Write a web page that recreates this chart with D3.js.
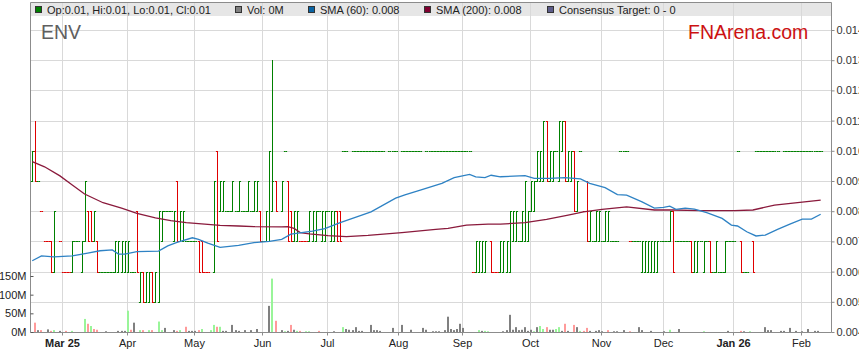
<!DOCTYPE html>
<html><head><meta charset="utf-8">
<script src="https://cdn.jsdelivr.net/npm/d3@7/dist/d3.min.js"></script>
<style>
body{margin:0;background:#fff}
svg{display:block;font-family:"Liberation Sans",Arial,sans-serif}
</style>
</head><body>
<svg id="chart" width="859" height="363"></svg>
<script>
// ---------- data ----------
const firstDay = "2025-02-17", dayAfterLast = "2026-02-11";
const monthLabels = ["Mar 25","Apr","May","Jun","Jul","Aug","Sep","Oct","Nov","Dec","Jan 26","Feb"];
const yearLabels = ["Mar 25","Jan 26"];
const priceTicks = [0.004,0.005,0.006,0.007,0.008,0.009,0.010,0.011,0.012,0.013,0.014];
const volumeTicks = [0,50,100,150]; // millions
const open = [
.009,.010,.009,.008,.007,.007,.007,.006,null,.007,
.006,.006,.006,.006,.007,.007,.006,.007,.008,.008,
.007,.007,.006,.006,.006,.006,.006,.006,.006,.006,
.006,.006,.006,.006,.008,.005,.006,.005,.005,.006,
.005,.005,.007,.008,.008,.008,.007,.009,.007,.007,
.007,.007,.007,.007,.007,.007,.006,.006,null,.006,
.010,.008,.008,.008,.008,.008,.008,.008,.008,.008,
.008,.008,.008,.008,.008,.007,.007,.007,.008,.009,
null,.008,.010,.009,.008,.007,.007,.007,.007,.007,
.007,.007,.007,.008,.007,.007,.008,.007,.007,.008,
.008,.010,.010,null,.010,.010,.010,.010,.010,.010,
.010,.010,.010,.010,.010,null,.010,.010,.010,null,
.010,.010,.010,.010,.010,.010,.010,null,.010,.010,
.010,.010,.010,.010,.010,.010,.010,.010,.010,.010,
.010,.010,.010,.006,.006,.006,.006,.006,null,.007,
.006,.006,.006,.006,.006,.006,.007,.007,.007,.007,
.007,.007,.008,.008,.009,.009,.009,.011,.009,.009,
.010,.009,.010,.011,.009,.009,.010,.008,.010,.008,
.009,.007,.007,.007,.007,.007,.007,.007,.007,.007,
.007,.010,.010,.010,.007,.007,.007,.007,.006,.006,
.006,.006,.006,.006,.007,.007,.007,.007,.008,.007,
.007,.007,.007,.007,.007,.006,.006,.007,.006,.007,
.007,.006,.006,.006,.006,.006,.007,.007,.007,.010,
.007,.006,.006,null,.007,.010,.010,.010,.010,.010,
.010,.010,.010,null,.010,.010,.010,.010,.010,.010,
.010,.010,.010,.010,.010,.010,.010];
const high = [
.010,.011,.009,.008,.007,.007,.007,.008,null,.007,
.006,.006,.006,.007,.007,.007,.007,.009,.008,.008,
.008,.007,.006,.006,.006,.006,.006,.007,.007,.007,
.007,.007,.006,.006,.008,.006,.006,.006,.006,.006,
.006,.008,.008,.008,.008,.008,.008,.009,.008,.008,
.007,.007,.007,.007,.007,.007,.006,.006,null,.009,
.010,.009,.009,.008,.008,.009,.008,.009,.008,.008,
.009,.008,.009,.009,.008,.007,.008,.010,.013,.009,
null,.009,.010,.009,.008,.008,.008,.007,.007,.007,
.008,.008,.008,.008,.008,.008,.008,.008,.008,.008,
.008,.010,.010,null,.010,.010,.010,.010,.010,.010,
.010,.010,.010,.010,.010,null,.010,.010,.010,null,
.010,.010,.010,.010,.010,.010,.010,null,.010,.010,
.010,.010,.010,.010,.010,.010,.010,.010,.010,.010,
.010,.010,.010,.006,.007,.007,.007,.007,null,.007,
.006,.006,.007,.007,.007,.008,.008,.008,.007,.008,
.009,.008,.009,.009,.010,.010,.011,.011,.010,.010,
.010,.011,.011,.011,.010,.010,.010,.009,.010,.008,
.009,.008,.007,.008,.008,.007,.008,.008,.007,.007,
.007,.010,.010,.010,.007,.007,.007,.007,.007,.007,
.007,.007,.007,.007,.007,.007,.007,.008,.008,.007,
.007,.007,.007,.007,.007,.007,.007,.007,.007,.007,
.007,.006,.007,.006,.006,.007,.007,.007,.007,.010,
.007,.006,.006,null,.007,.010,.010,.010,.010,.010,
.010,.010,.010,null,.010,.010,.010,.010,.010,.010,
.010,.010,.010,.010,.010,.010,.010];
const low = [
.009,.009,.009,.008,.007,.007,.006,.006,null,.007,
.006,.006,.006,.006,.007,.007,.006,.007,.007,.007,
.007,.006,.006,.006,.006,.006,.006,.006,.006,.006,
.006,.006,.006,.006,.006,.005,.005,.005,.005,.005,
.005,.005,.007,.008,.008,.008,.007,.007,.007,.007,
.007,.007,.007,.007,.006,.006,.006,.006,null,.006,
.007,.008,.008,.008,.008,.008,.008,.008,.008,.008,
.008,.008,.008,.008,.007,.007,.007,.007,.008,.008,
null,.008,.010,.007,.007,.007,.007,.007,.007,.007,
.007,.007,.007,.008,.007,.007,.008,.007,.007,.007,
.007,.010,.010,null,.010,.010,.010,.010,.010,.010,
.010,.010,.010,.010,.010,null,.010,.010,.010,null,
.010,.010,.010,.010,.010,.010,.010,null,.010,.010,
.010,.010,.010,.010,.010,.010,.010,.010,.010,.010,
.010,.010,.010,.006,.006,.006,.006,.006,null,.006,
.006,.006,.006,.006,.006,.006,.007,.007,.007,.007,
.007,.007,.008,.008,.009,.009,.009,.009,.009,.009,
.010,.009,.010,.009,.009,.009,.008,.008,.010,.008,
.007,.007,.007,.007,.007,.007,.007,.007,.007,.007,
.007,.010,.010,.010,.007,.007,.007,.007,.006,.006,
.006,.006,.006,.006,.007,.007,.007,.007,.006,.007,
.007,.007,.007,.007,.006,.006,.006,.007,.006,.007,
.006,.006,.006,.006,.006,.006,.007,.007,.007,.010,
.006,.006,.006,null,.006,.010,.010,.010,.010,.010,
.010,.010,.010,null,.010,.010,.010,.010,.010,.010,
.010,.010,.010,.010,.010,.010,.010];
const close = [
.010,.009,.009,.008,.007,.007,.006,.008,null,.007,
.006,.006,.006,.007,.007,.007,.007,.009,.007,.007,
.008,.006,.006,.006,.006,.006,.006,.007,.007,.007,
.007,.007,.006,.006,.006,.006,.005,.006,.006,.005,
.006,.008,.008,.008,.008,.008,.008,.007,.008,.008,
.007,.007,.007,.007,.006,.006,.006,.006,null,.009,
.007,.009,.009,.008,.008,.009,.008,.009,.008,.008,
.009,.008,.009,.009,.007,.007,.008,.010,.009,.008,
null,.009,.010,.007,.007,.008,.008,.007,.007,.007,
.008,.008,.008,.008,.008,.008,.008,.008,.008,.007,
.007,.010,.010,null,.010,.010,.010,.010,.010,.010,
.010,.010,.010,.010,.010,null,.010,.010,.010,null,
.010,.010,.010,.010,.010,.010,.010,null,.010,.010,
.010,.010,.010,.010,.010,.010,.010,.010,.010,.010,
.010,.010,.010,.006,.007,.007,.007,.007,null,.006,
.006,.006,.007,.007,.007,.008,.008,.008,.007,.008,
.009,.008,.009,.009,.010,.010,.011,.009,.010,.010,
.010,.011,.011,.009,.010,.010,.008,.009,.010,.008,
.007,.008,.007,.008,.008,.007,.008,.008,.007,.007,
.007,.010,.010,.010,.007,.007,.007,.007,.007,.007,
.007,.007,.007,.007,.007,.007,.007,.008,.006,.007,
.007,.007,.007,.007,.006,.007,.007,.007,.007,.007,
.006,.006,.007,.006,.006,.007,.007,.007,.007,.010,
.006,.006,.006,null,.006,.010,.010,.010,.010,.010,
.010,.010,.010,null,.010,.010,.010,.010,.010,.010,
.010,.010,.010,.010,.010,.010,.010];
// u = up day (green), d = down day (red)
const direction =
"ududdddudd"+"ddduuuuudd"+"uduuuuuuuu"+"uuuududuud"+"uuuuuuuduu"+
"uuuudddddu"+"duuuuuuuuu"+"uuuuduuuud"+"uuudduuddd"+"uuuuuuuuud"+
"duuuuuuuuu"+"uuuuuuuuuu"+"uuuuuuuuuu"+"uuuuuuuuuu"+"uuuduuuuud"+
"dduuuuuuuu"+"uuuuuuuduu"+"uuuduuduud"+"duuuuuuuuu"+"uuuuduuuuu"+
"uuuuuuuudu"+"uuuuduuuuu"+"duuuuuuuuu"+"duuuduuuuu"+"uuuuuuuuuu"+"uuuuuuu";
const volume = [ // millions
0,25,5,5,0,7,3,5,0,3,
0,3,0,3,0,0,0,35,22,16,
8,6,0,0,2,0,0,0,3,3,
3,57,6,25,0,5,5,0,5,5,
0,28,5,11,0,0,5,3,5,0,
14,3,3,3,5,8,0,0,5,19,
14,14,3,3,0,19,5,3,0,5,
0,5,0,8,0,0,0,70,143,30,
0,5,2,3,19,6,3,3,0,2,
2,0,0,3,0,0,0,0,2,0,
0,13,8,6,5,13,3,3,0,0,
19,5,5,3,0,0,0,11,0,0,
19,0,0,6,0,0,0,11,6,0,
2,2,2,0,5,41,8,5,8,22,
11,0,0,0,0,5,3,3,2,0,
0,0,0,2,5,46,6,13,5,6,
13,3,6,2,13,16,8,13,6,6,
8,13,3,22,3,0,19,13,3,3,
11,3,0,3,5,2,0,5,0,2,
2,0,5,0,2,0,0,13,5,0,
0,3,0,0,0,2,0,6,0,0,
8,0,0,0,0,0,0,0,2,0,
0,0,0,0,0,0,3,0,0,0,
3,2,0,2,0,0,0,0,13,5,
5,0,0,3,3,0,11,0,3,0,
2,0,8,0,3,3,0];
// g = up, r = down, n = unchanged
const volumeColour =
"nrnrnnrgnn"+"nrngnnngrg"+"rrnnnnnnnn"+"ngrnngrngr"+"nggnnnnrgn"+
"rnnnrgnngg"+"rgnnnnnnnn"+"nnnnnnnngr"+"nngnrngrng"+"gnnrnnnnnn"+
"ngnnnnnnnn"+"nnnnnnnnnn"+"nnnnnnnnnn"+"nnnnnnnnnn"+"nnnnngnggn"+
"nnnnnnnnnn"+"nnngnggrnn"+"ggnrnnrngr"+"rnnnnnnrnn"+"nnnnrnnnnn"+
"nnnnnnngnn"+"nnnnnnnngn"+"nnnnnnnnnn"+"rnngnnnnnn"+"nnnnnnnnnn"+"nnnnnnn";
const sma60Day = [0,3,7,13,18,22,26,28,30,34,41,44,47,52,54,57,61,67,72,77,81,84,91,95,100,107,110,118,121,126,133,137,142,144,147,149,152,160,163,168,173,178,181,186,190,193,198,202,205,207,209,212,215,219,224,227,229,232,235,238,242,246,250,253,256];
const sma60Value = [.00636,.00652,.00649,.00652,.00661,.00669,.00672,.00658,.00658,.00666,.00668,.00685,.00697,.00712,.00707,.00694,.00680,.00687,.00696,.00700,.00707,.00724,.00734,.00742,.00762,.00787,.00798,.00843,.00854,.00870,.00892,.00911,.00922,.00914,.00911,.00919,.00914,.00918,.00909,.00909,.00911,.00907,.00892,.00878,.00855,.00853,.00831,.00810,.00813,.00817,.00806,.00810,.00807,.00795,.00776,.00754,.00751,.00732,.00718,.00721,.00740,.00757,.00774,.00774,.00790];
const sma200Day = [0,4,9,13,17,23,29,34,40,45,50,56,61,67,72,81,83,85,87,90,96,102,109,120,131,135,141,148,152,160,167,174,179,185,193,202,208,217,228,234,241,250,256];
const sma200Value = [.00964,.00947,.00917,.00887,.00857,.00828,.00810,.00793,.00778,.00769,.00762,.00757,.00753,.00751,.00749,.00748,.00749,.00743,.00729,.00725,.00719,.00716,.00720,.00729,.00740,.00743,.00754,.00757,.00757,.00762,.00773,.00787,.00798,.00806,.00814,.00804,.00804,.00802,.00802,.00804,.00820,.00830,.00837];
const legendItems = [
  {text:"Op:0.01, Hi:0.01, Lo:0.01, Cl:0.01", colour:"#008000"},
  {text:"Vol: 0M", colour:"#808080"},
  {text:"SMA (60): 0.008", colour:"#0a64a4"},
  {text:"SMA (200): 0.008", colour:"#800030"},
  {text:"Consensus Target: 0 - 0", colour:"#5c5c8a"}
];
const legendX = [35,235,308,424,547];

// ---------- layout ----------
const L = 31, R = 831, T = 3, B = 332;
const svg = d3.select("#chart");
const parse = d3.timeParse("%Y-%m-%d");
const dates = d3.timeDay.range(parse(firstDay), parse(dayAfterLast)).filter(d => d.getDay() % 6 !== 0);
const x = d3.scaleLinear().domain([-0.4, 259.35]).range([L, R]);
const y = d3.scaleLinear().domain([0.004, 0.014]).range([B, 30]);
const yv = d3.scaleLinear().domain([0, 150]).range([B, 276]);
const px = v => Math.round(v) + 0.5;

const monthStarts = [];
dates.forEach((d, i) => { if (i > 0 && d.getMonth() !== dates[i-1].getMonth()) monthStarts.push(i); });

// legend band
svg.append("rect").attr("x", L).attr("y", T).attr("width", R - L).attr("height", 13).attr("fill", "#e6e6e6");

// grid
const grid = svg.append("g").attr("stroke", "#d9d9d9").attr("stroke-width", 1);
priceTicks.slice(1).forEach(t => grid.append("line").attr("x1", L).attr("x2", R).attr("y1", px(y(t))).attr("y2", px(y(t))));
monthStarts.forEach(i => grid.append("line").attr("x1", px(x(i) - 1)).attr("x2", px(x(i) - 1)).attr("y1", T).attr("y2", B));

// frame
svg.append("path").attr("d", `M${L-0.5},${B}V${T-0.5}H${R+0.5}`).attr("fill", "none").attr("stroke", "#8c8c8c");

// volume bars
svg.append("g").selectAll("rect").data(volume.map((v, i) => ({v, i})).filter(d => d.v > 0))
  .join("rect")
  .attr("x", d => Math.round(x(d.i)) - 1).attr("width", 2)
  .attr("y", d => yv(d.v)).attr("height", d => B - yv(d.v))
  .attr("fill", d => ({g:"#99f599", r:"#ff9a9a", n:"#808080"})[volumeColour[d.i]]);

// OHLC bars
const bars = svg.append("g").attr("stroke-width", 1).attr("fill", "none");
dates.forEach((d, i) => {
  if (open[i] == null) return;
  const cx = px(x(i));
  const col = direction[i] === "d" ? "#e00000" : "#008000";
  const yo = px(y(open[i])), yc = px(y(close[i])), yh = px(y(high[i])), yl = px(y(low[i]));
  let path = `M${cx - 1.6},${yo}H${cx}M${cx},${yc}H${cx + 1.6}`;
  if (yh !== yl) path += `M${cx},${yh - 0.5}V${yl + 0.5}`;
  bars.append("path").attr("d", path).attr("stroke", col);
});

// SMA lines
const line = d3.line().x(d => x(d[0])).y(d => y(d[1]));
svg.append("path").datum(d3.zip(sma200Day, sma200Value)).attr("d", line)
  .attr("fill", "none").attr("stroke", "#8a1a3c").attr("stroke-width", 1.3);
svg.append("path").datum(d3.zip(sma60Day, sma60Value)).attr("d", line)
  .attr("fill", "none").attr("stroke", "#2e82c4").attr("stroke-width", 1.3);

// right price axis
const ay = svg.append("g").attr("transform", `translate(${R + 0.5},0)`)
  .call(d3.axisRight(y).tickValues(priceTicks).tickFormat(d3.format(".3f")).tickSize(3).tickPadding(2));
ay.select(".domain").attr("stroke", "#8c8c8c").attr("d", `M0,${T - 0.5}V${B + 0.5}`);
ay.selectAll(".tick line").attr("stroke", "#8c8c8c");
ay.selectAll("text").attr("font-size", 11).attr("fill", "#333").attr("font-family", "Liberation Sans, Arial, sans-serif");

// bottom month axis
const ax = svg.append("g").attr("transform", `translate(0,${B + 0.5})`)
  .call(d3.axisBottom(x).tickValues(monthStarts).tickFormat((d, k) => monthLabels[k]).tickSize(3).tickPadding(4));
ax.select(".domain").attr("stroke", "#8c8c8c").attr("d", `M${L - 0.5},0H${R + 0.5}`);
ax.selectAll(".tick").attr("transform", d => `translate(${px(x(d) - 1)},0)`);
ax.selectAll(".tick line").attr("stroke", "#8c8c8c");
ax.selectAll("text").attr("font-size", 11).attr("fill", "#222").attr("font-family", "Liberation Sans, Arial, sans-serif")
  .attr("font-weight", (d, k) => yearLabels.includes(monthLabels[k]) ? "bold" : "normal");

// left volume axis
const av = svg.append("g").attr("transform", `translate(${L - 0.5},0)`)
  .call(d3.axisLeft(yv).tickValues(volumeTicks).tickFormat(d => d + "M").tickSize(-3).tickPadding(4));
av.select(".domain").remove();
av.selectAll(".tick line").attr("stroke", "#555");
av.selectAll("text").attr("font-size", 11).attr("fill", "#222").attr("font-family", "Liberation Sans, Arial, sans-serif");

// legend
legendItems.forEach((it, k) => {
  svg.append("rect").attr("x", legendX[k] + 0.5).attr("y", 6.5).attr("width", 6).attr("height", 6)
    .attr("fill", it.colour).attr("stroke", "#333");
  svg.append("text").attr("x", legendX[k] + 12).attr("y", 13.5).attr("font-size", 11).attr("fill", "#222").text(it.text);
});

// titles
svg.append("text").attr("x", 41).attr("y", 39).attr("font-size", 19.5).attr("fill", "#5f5f5f").text("ENV");
svg.append("text").attr("x", 688).attr("y", 38.5).attr("font-size", 19.5).attr("fill", "#cc1111").text("FNArena.com");
</script>
</body></html>
